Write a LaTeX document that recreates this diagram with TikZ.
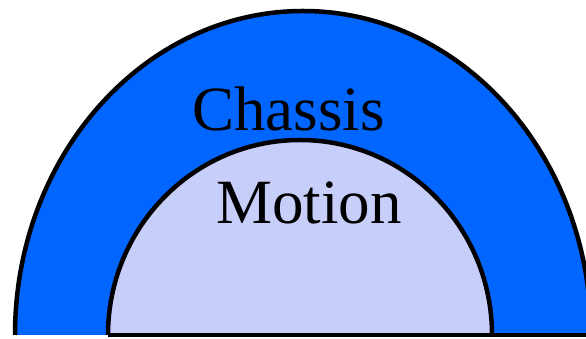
\documentclass[tikz,border=0pt]{standalone}
\usepackage{fontspec}
\setmainfont{Liberation Serif}
\definecolor{outerblue}{HTML}{0066FF}
\definecolor{innerlav}{HTML}{C8CEFA}
\tikzset{
  rim/.style={line width=4.5pt, line cap=butt},
  lbl/.style={inner sep=0pt, font=\fontsize{63}{63}\selectfont, anchor=base west}
}
\begin{document}
\begin{tikzpicture}[x=1pt,y=1pt]
\useasboundingbox (0,0) rectangle (586,339);
\clip (0,0) rectangle (586,339);
% outer half-ellipse
\fill[outerblue] (15,4) arc[start angle=180, end angle=0, x radius=288, y radius=324] -- cycle;
\draw[rim] (15,4) arc[start angle=180, end angle=0, x radius=288, y radius=324];
% inner half-ellipse
\fill[innerlav] (108,4) arc[start angle=180, end angle=0, x radius=192, y radius=195] -- cycle;
\draw[rim] (108,4) arc[start angle=180, end angle=0, x radius=192, y radius=195];
% base line
\coordinate (bl) at (108,4);
\coordinate (br) at (590,4);
\draw[rim] (bl) -- (br);
\node[lbl] (chassis) at (192,208) {Chassis};
\node[lbl] (motion) at (216,115) {Motion};
\end{tikzpicture}
\end{document}
